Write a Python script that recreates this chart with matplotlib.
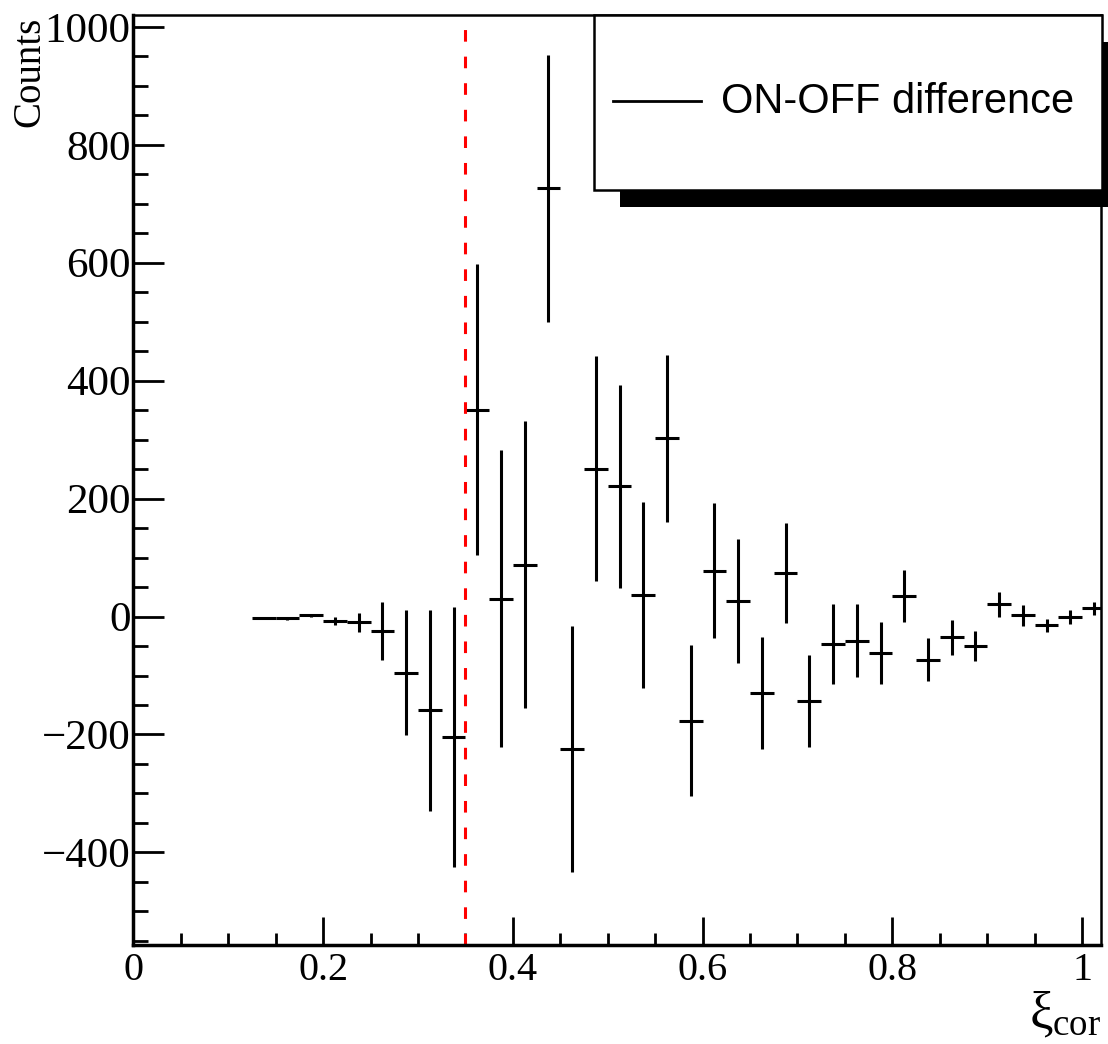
import matplotlib
matplotlib.use('Agg')
import matplotlib.pyplot as plt
from matplotlib.patches import Rectangle
from matplotlib.lines import Line2D
from matplotlib.ticker import MultipleLocator

plt.rcParams['font.family'] = 'Liberation Serif'
plt.rcParams['mathtext.fontset'] = 'custom'
plt.rcParams['mathtext.rm'] = 'Liberation Serif'
plt.rcParams['mathtext.it'] = 'Liberation Serif'

# bin centres of xi_cor (bin width 0.025)
xi = [0.1375, 0.1625, 0.1875, 0.2125, 0.2375, 0.2625, 0.2875, 0.3125, 0.3375,
      0.3625, 0.3875, 0.4125, 0.4375, 0.4625, 0.4875, 0.5125, 0.5375, 0.5625,
      0.5875, 0.6125, 0.6375, 0.6625, 0.6875, 0.7125, 0.7375, 0.7625, 0.7875,
      0.8125, 0.8375, 0.8625, 0.8875, 0.9125, 0.9375, 0.9625, 0.9875, 1.0125]
half_width = 0.0125
counts = [-2, -3, 2, -7, -10, -25, -95, -159, -204,
          351, 30, 88, 726, -225, 251, 221, 37, 302,
          -177, 78, 26, -129, 74, -143, -46, -41, -62,
          35, -73, -35, -50, 21, 2, -15, -1, 14]
errors = [2, 3, 3, 7, 16, 49, 106, 170, 220,
          247, 252, 243, 227, 209, 190, 172, 158, 142,
          128, 115, 105, 95, 85, 78, 68, 62, 52,
          44, 36, 30, 25, 21, 18, 11, 12, 11]
cut = 0.35

fig = plt.figure(figsize=(11.08, 10.44), dpi=100)
ax = fig.add_axes([0.1203, 0.0948, 0.8735, 0.8908])

ax.errorbar(xi, counts, yerr=errors, xerr=half_width, fmt='none',
            ecolor='black', elinewidth=2.2, capsize=0)
ax.axvline(cut, color='red', lw=2.2, linestyle=(0, (3.8, 4.9)))

ax.set_xlim(0, 1.02)
ax.set_ylim(-557, 1020)
ax.xaxis.set_minor_locator(MultipleLocator(0.05))
ax.yaxis.set_major_locator(MultipleLocator(200))
ax.yaxis.set_minor_locator(MultipleLocator(50))
ax.set_xticks([0, 0.2, 0.4, 0.6, 0.8, 1.0])
ax.set_xticklabels(['0', '0.2', '0.4', '0.6', '0.8', '1'])

ax.tick_params(which='both', direction='in', width=2)
ax.tick_params(axis='x', which='major', length=20, pad=5, labelsize=29)
ax.tick_params(axis='x', which='minor', length=9)
ax.tick_params(axis='y', which='major', length=22, pad=2, labelsize=31)
ax.tick_params(axis='y', which='minor', length=11)
for side in ['left', 'bottom']:
    ax.spines[side].set_linewidth(2.5)
for side in ['top', 'right']:
    ax.spines[side].set_linewidth(1.8)

fig.text(0.994, 0.004, r'$\xi_{\mathrm{cor}}$', fontsize=38, ha='right', va='bottom')
fig.text(0.027, 0.984, 'Counts', fontsize=28, rotation=90, ha='center', va='top')

# legend box with ROOT-style shadow
W, H = 1108.0, 1044.0
fig.add_artist(Rectangle((620 / W, 1 - 207 / H), 520 / W, 165 / H,
                         transform=fig.transFigure, facecolor='black',
                         edgecolor='none', zorder=10))
fig.add_artist(Rectangle((593.5 / W, 1 - 189.5 / H), 508 / W, 174.5 / H,
                         transform=fig.transFigure, facecolor='white',
                         edgecolor='black', lw=1.8, zorder=11))
fig.add_artist(Line2D([613 / W, 701 / W], [1 - 101 / H, 1 - 101 / H],
                      transform=fig.transFigure, color='black', lw=2, zorder=12))
fig.text(721 / W, 1 - 102 / H, 'ON-OFF difference', fontsize=30,
         family='Liberation Sans', ha='left', va='center', zorder=12)

fig.savefig('out.png', dpi=100)
